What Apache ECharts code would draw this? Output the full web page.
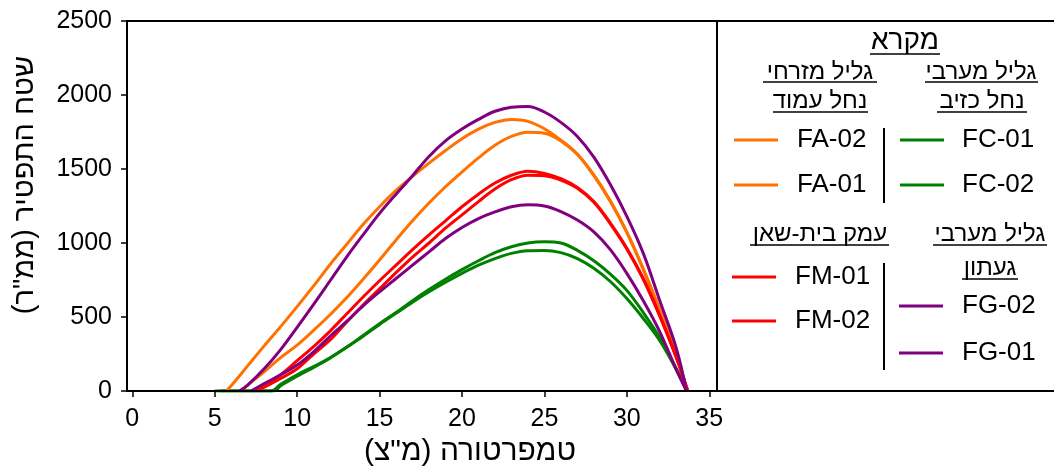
<!DOCTYPE html>
<html lang="he">
<head>
<meta charset="utf-8">
<script src="https://cdn.jsdelivr.net/npm/echarts@6/dist/echarts.min.js"></script>
<style>
  html, body { margin: 0; padding: 0; background: #fff; }
  #chart { width: 1054px; height: 467px; direction: rtl; }
</style>
</head>
<body>
<div id="chart"></div>
<script>
// Mycelium area (mm²) against temperature (°C), one curve per isolate.
// Each array holds [temperature, area] pairs.
const FC01 = [[5,0],[8.4,0],[9,45],[10,110],[11,165],[12,225],[13,295],[14,375],[15,455],[16,530],[17,610],[18,685],[19,755],[20,820],[21,880],[22,935],[23,975],[24,1000],[25,1008],[26,1000],[27,950],[28,880],[29,790],[30,680],[31,530],[32,360],[33,150],[33.65,0]];
const FC02 = [[5.3,0],[8.6,0],[9,35],[10,100],[11,160],[12,222],[13,295],[14,370],[15,450],[16,525],[17,600],[18,670],[19,735],[20,795],[21,850],[22,895],[23,930],[24,948],[25,950],[26,935],[27,895],[28,830],[29,740],[30,625],[31,490],[32,340],[33,145],[33.65,0]];
const FA02 = [[5.7,0],[6,35],[7,170],[8,305],[9,435],[10,570],[11,710],[12,855],[13,990],[14,1125],[15,1245],[16,1355],[17,1450],[18,1540],[19,1625],[20,1705],[21,1770],[22,1815],[23,1835],[24,1822],[25,1772],[26,1695],[27,1600],[28,1455],[29,1280],[30,1070],[31,820],[32,545],[33,250],[33.65,0]];
const FA01 = [[6.6,0],[7,40],[8,130],[9,225],[10,310],[11,410],[12,515],[13,630],[14,755],[15,885],[16,1020],[17,1150],[18,1270],[19,1380],[20,1480],[21,1575],[22,1660],[23,1720],[24,1748],[25,1742],[26,1690],[27,1600],[28,1460],[29,1285],[30,1075],[31,825],[32,550],[33,250],[33.65,0]];
const FM01 = [[7.4,0],[8,40],[9,110],[10,205],[11,300],[12,405],[13,520],[14,635],[15,745],[16,850],[17,955],[18,1055],[19,1150],[20,1245],[21,1330],[22,1405],[23,1458],[24,1485],[25,1470],[26,1435],[27,1375],[28,1280],[29,1135],[30,965],[31,760],[32,510],[33,230],[33.7,0]];
const FM02 = [[7.6,0],[8,25],[9,85],[10,150],[11,250],[12,345],[13,465],[14,580],[15,690],[16,800],[17,905],[18,1000],[19,1100],[20,1190],[21,1280],[22,1365],[23,1428],[24,1458],[25,1455],[26,1425],[27,1370],[28,1275],[29,1130],[30,960],[31,755],[32,505],[33,225],[33.7,0]];
const FG02 = [[6.5,0],[7,40],[8,150],[9,280],[10,430],[11,585],[12,745],[13,905],[14,1055],[15,1200],[16,1330],[17,1455],[18,1585],[19,1690],[20,1770],[21,1835],[22,1890],[23,1918],[24,1922],[25,1885],[26,1815],[27,1720],[28,1580],[29,1395],[30,1180],[31,930],[32,610],[33,290],[33.62,0]];
const FG01 = [[7.2,0],[8,50],[9,110],[10,175],[11,265],[12,370],[13,470],[14,575],[15,670],[16,760],[17,850],[18,940],[19,1030],[20,1105],[21,1165],[22,1210],[23,1245],[24,1258],[25,1250],[26,1212],[27,1155],[28,1075],[29,955],[30,795],[31,610],[32,400],[33,145],[33.62,0]];

const xTicks = [0, 5, 10, 15, 20, 25, 30, 35];

const seriesNames = ['FC-01', 'FC-02', 'FA-02', 'FA-01', 'FM-01', 'FM-02', 'FG-02', 'FG-01'];
const seriesData = [FC01, FC02, FA02, FA01, FM01, FM02, FG02, FG01];
const seriesColors = ['#008000', '#008000', '#FF7200', '#FF7200', '#FF0000', '#FF0000', '#800080', '#800080'];

const FONT = 'Liberation Sans, Arimo, Arial, DejaVu Sans, sans-serif';

const chart = echarts.init(document.getElementById('chart'), null, { renderer: 'canvas' });

function legendBlock(names, left, top, gap, pad) {
  return {
    orient: 'vertical',
    left: left, top: top,
    itemGap: gap,
    itemWidth: 44, itemHeight: 3,
    icon: 'rect',
    selectedMode: false,
    padding: 0,
    data: names,
    textStyle: { fontFamily: FONT, fontSize: 26, color: '#000', lineHeight: 26, padding: [0, 0, 0, pad] }
  };
}

function header(text, x, y, size) {
  return {
    type: 'text', x: x, y: y,
    style: { text: text, fontFamily: FONT, fontSize: size, fill: '#000', align: 'center', verticalAlign: 'middle' }
  };
}
function rule(x1, y1, x2, y2, w) {
  return { type: 'line', shape: { x1: x1, y1: y1, x2: x2, y2: y2 }, style: { stroke: '#000', lineWidth: w } };
}

const option = {
  animation: false,
  backgroundColor: '#fff',
  grid: {
    left: 127, right: 337, top: 21, bottom: 76,
    outerBoundsMode: 'none',
    containLabel: false,
    show: true, borderColor: '#000', borderWidth: 2
  },
  xAxis: {
    type: 'value',
    min: -0.32, max: 35.47,
    name: 'טמפרטורה (מ"צ)',
    nameLocation: 'middle',
    nameGap: 45,
    nameTextStyle: { fontFamily: FONT, fontSize: 30, color: '#000', padding: [0, 0, 0, 96] },
    axisLine: { show: true, onZero: false, lineStyle: { color: '#000', width: 2 } },
    axisTick: { show: true, length: 6, lineStyle: { color: '#000', width: 1.5 }, customValues: xTicks },
    axisLabel: { fontFamily: FONT, fontSize: 25, color: '#000', margin: 16, customValues: xTicks },
    splitLine: { show: false },
    z: 5
  },
  yAxis: {
    type: 'value',
    min: 0, max: 2500, interval: 500,
    name: 'שטח התפטיר (ממ"ר)',
    nameLocation: 'middle',
    nameRotate: 90,
    nameGap: 88,
    nameTextStyle: { fontFamily: FONT, fontSize: 29, color: '#000', padding: [0, 0, 0, 42] },
    axisLine: { show: true, onZero: false, lineStyle: { color: '#000', width: 2 } },
    axisTick: { show: true, length: 6, lineStyle: { color: '#000', width: 1.5 } },
    axisLabel: { fontFamily: FONT, fontSize: 25, color: '#000', margin: 15, formatter: function (v) { return String(v); } },
    splitLine: { show: false },
    z: 5
  },
  legend: [
    legendBlock(['FC-01', 'FC-02'], 900, 127, 19, 13),
    legendBlock(['FA-02', 'FA-01'], 734, 127, 19, 14),
    legendBlock(['FM-01', 'FM-02'], 732, 264, 18, 14),
    legendBlock(['FG-02', 'FG-01'], 899, 293, 21, 14)
  ],
  graphic: [
    // panel frame continuing the plot box
    rule(717, 21, 1054, 21, 2),
    rule(717, 391, 1054, 391, 2),
    // legend titles
    header('מקרא', 905, 41, 28), rule(870, 54, 940, 54, 1.5),
    header('גליל מערבי', 981, 72, 24), rule(925, 82, 1038, 82, 1.5),
    header('נחל כזיב', 982, 101, 24), rule(937, 112, 1027, 112, 1.5),
    header('גליל מזרחי', 820, 72, 24), rule(763, 82, 877, 82, 1.5),
    header('נחל עמוד', 820, 101, 24), rule(773, 112, 868, 112, 1.5),
    header('עמק בית-שאן', 820, 234, 24), rule(750, 245, 889, 245, 1.5),
    header('גליל מערבי', 990, 234, 24), rule(933, 245, 1047, 245, 1.5),
    header('געתון', 990, 268, 24), rule(962, 279, 1018, 279, 1.5),
    // column separators
    rule(884, 128, 884, 203, 2),
    rule(884, 263, 884, 370, 2)
  ],
  series: seriesNames.map(function (name, i) {
    return {
      name: name,
      type: 'line',
      data: seriesData[i],
      showSymbol: false,
      smooth: 0.35,
      color: seriesColors[i],
      lineStyle: { width: 3, color: seriesColors[i] },
      z: 2
    };
  })
};

chart.setOption(option);
</script>
</body>
</html>
